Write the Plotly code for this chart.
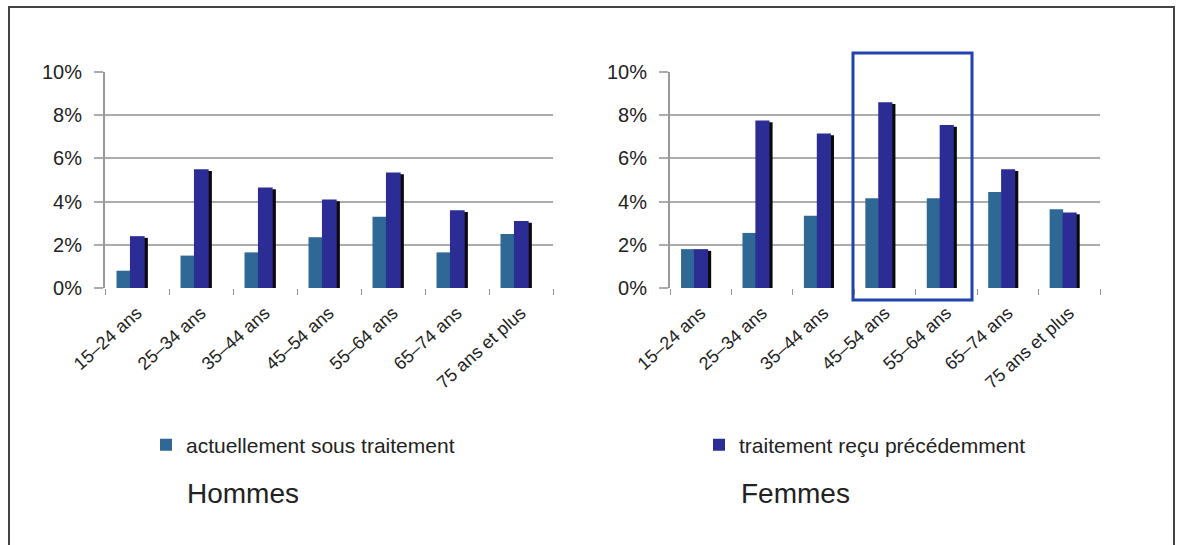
import plotly.graph_objects as go

categories = ["15–24 ans", "25–34 ans", "35–44 ans", "45–54 ans",
              "55–64 ans", "65–74 ans", "75 ans et plus"]
hommes_actuel = [0.8, 1.5, 1.65, 2.35, 3.3, 1.65, 2.5]
hommes_precedent = [2.4, 5.5, 4.65, 4.1, 5.35, 3.6, 3.1]
femmes_actuel = [1.8, 2.55, 3.35, 4.15, 4.15, 4.45, 3.65]
femmes_precedent = [1.8, 7.75, 7.15, 8.6, 7.55, 5.5, 3.5]
y_ticks = [0, 2, 4, 6, 8, 10]
y_ticklabels = ["0%", "2%", "4%", "6%", "8%", "10%"]

C_ACT = "#2F6894"
C_PREC = "#2B2D95"
FONT = "Liberation Sans, Arial, sans-serif"
W, H = 1178, 545

fig = go.Figure()

def add_group(act, prec, xa, ya, legend):
    fig.add_trace(go.Bar(x=categories, y=[v - 0.08 for v in prec], offset=-0.06, width=0.23,
                         marker=dict(color="#0a0a0a", line=dict(width=0)),
                         showlegend=False, hoverinfo="skip", xaxis=xa, yaxis=ya))
    fig.add_trace(go.Bar(x=categories, y=act, offset=-0.32, width=0.22,
                         name="actuellement sous traitement",
                         marker=dict(color=C_ACT, line=dict(width=0)),
                         showlegend=legend, legend="legend", xaxis=xa, yaxis=ya))
    fig.add_trace(go.Bar(x=categories, y=prec, offset=-0.11, width=0.23,
                         name="traitement reçu précédemment",
                         marker=dict(color=C_PREC, line=dict(width=0)),
                         showlegend=legend, legend="legend2", xaxis=xa, yaxis=ya))

add_group(hommes_actuel, hommes_precedent, "x", "y", True)
add_group(femmes_actuel, femmes_precedent, "x2", "y2", False)

axis_y = dict(range=[0, 10], tickvals=y_ticks, ticktext=y_ticklabels,
              showgrid=True, gridcolor="#acacac", gridwidth=2,
              showline=True, linecolor="#999999", linewidth=2,
              ticks="outside", ticklen=9, tickcolor="#acacac", tickwidth=2,
              ticklabelstandoff=8,
              tickfont=dict(family=FONT, size=20, color="#222222"),
              zeroline=False, fixedrange=True)
axis_x = dict(type="category", tickangle=-42, tickson="boundaries",
              ticks="outside", ticklen=6, tickcolor="#999999", tickwidth=1,
              showline=False, showgrid=False,
              ticklabelstandoff=10, ticklabelshift=0,
              tickfont=dict(family=FONT, size=18, color="#222222"),
              range=[-0.5, 6.5], fixedrange=True)

ydom = [1 - 288/H, 1 - 72/H]
legfont = dict(family=FONT, size=21, color="#222222")
fig.update_layout(
    width=W, height=H,
    margin=dict(l=0, r=0, t=0, b=0, autoexpand=False),
    paper_bgcolor="white", plot_bgcolor="white",
    barmode="overlay",
    xaxis=dict(domain=[105/W, 553/W], anchor="y", **axis_x),
    yaxis=dict(domain=ydom, anchor="x", **axis_y),
    xaxis2=dict(domain=[670/W, 1100/W], anchor="y2", **axis_x),
    yaxis2=dict(domain=ydom, anchor="x2", **axis_y),
    showlegend=True,
    legend=dict(orientation="h", x=146/W, y=1-445/H, xanchor="left", yanchor="middle",
                font=legfont, bgcolor="rgba(0,0,0,0)"),
    legend2=dict(orientation="h", x=699/W, y=1-445/H, xanchor="left", yanchor="middle",
                 font=legfont, bgcolor="rgba(0,0,0,0)"),
    font=dict(family=FONT),
)

fig.add_annotation(text="Hommes", xref="paper", yref="paper", x=185/W, y=1-493/H,
                   xanchor="left", yanchor="middle", showarrow=False,
                   font=dict(family=FONT, size=28, color="#222222"))
fig.add_annotation(text="Femmes", xref="paper", yref="paper", x=739/W, y=1-493/H,
                   xanchor="left", yanchor="middle", showarrow=False,
                   font=dict(family=FONT, size=28, color="#222222"))

# outer frame
fig.add_shape(type="rect", xref="paper", yref="paper", x0=9/W, x1=1174/W,
              y0=-0.05, y1=1-7/H, line=dict(color="#444444", width=2),
              fillcolor="rgba(0,0,0,0)", layer="above")
# highlight rectangle
fig.add_shape(type="rect", xref="x2 domain", yref="paper",
              x0=(853-670)/430, x1=(972-670)/430, y0=1-300/H, y1=1-53/H,
              line=dict(color="#2142B0", width=3), fillcolor="rgba(0,0,0,0)", layer="above")

fig.write_html("out.html")
